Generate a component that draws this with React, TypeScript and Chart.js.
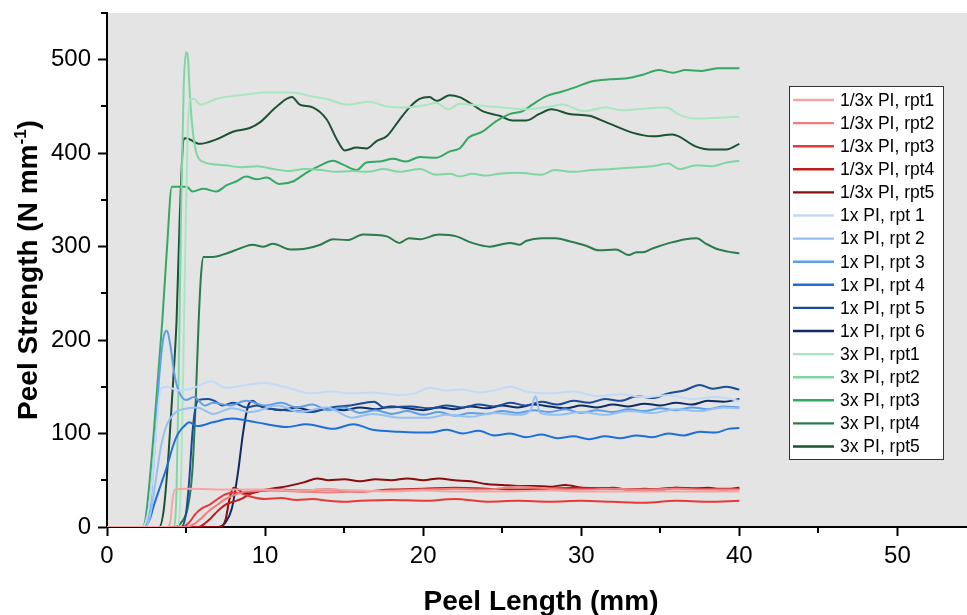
import React, { useEffect, useRef } from 'react';
import { Chart, registerables } from 'chart.js';

Chart.register(...registerables);

const FONT = "Arial, 'Liberation Sans', Helvetica, sans-serif";

const X_MIN = 0;
const X_MAX = 54.4;
const Y_MIN = 0;
const Y_MAX = 550;
const xMajorTicks = [0, 10, 20, 30, 40, 50];
const xMinorTicks = [5, 15, 25, 35, 45];
const yMajorTicks = [0, 100, 200, 300, 400, 500];
const yMinorTicks = [50, 150, 250, 350, 450, 550];

const xTitle = 'Peel Length (mm)';
const yTitleMain = 'Peel Strength (N mm';
const yTitleSup = '-1';
const yTitleEnd = ')';

const seriesLabels = [
  '1/3x PI, rpt1', '1/3x PI, rpt2', '1/3x PI, rpt3', '1/3x PI, rpt4', '1/3x PI, rpt5',
  '1x PI, rpt 1', '1x PI, rpt 2', '1x PI, rpt 3', '1x PI, rpt 4', '1x PI, rpt 5', '1x PI, rpt 6',
  '3x PI, rpt1', '3x PI, rpt2', '3x PI, rpt3', '3x PI, rpt4', '3x PI, rpt5',
];

const seriesColors = [
  '#f6a5a5', '#f17c7c', '#e8393a', '#c01a1a', '#8a0d0d',
  '#c3daf6', '#94c0f2', '#5f9fe9', '#1f6fd9', '#1a4c9a', '#0e2b66',
  '#a8e6c0', '#7fd6a2', '#34a862', '#2a7b4e', '#1a5234',
];

// 1/3x PI
const pi13_rpt1: [number, number][] = [[0,0],[3.8,0],[4.0,5],[4.15,30],[4.3,40],[5,41],[8,40],[10,40],[12,39],[14,40],[16,39],[18,38],[20,39],[22,38],[25,38],[28,39],[30,38],[33,38],[36,38],[40,38]];
const pi13_rpt2: [number, number][] = [[0,0],[5.0,0],[5.5,3],[6,10],[6.5,18],[7,24],[7.5,30],[8,34],[8.5,37],[9,38],[10,39],[12,38],[14,37],[16,38],[18,39],[20,40],[22,41],[24,40],[26,43],[28,41],[30,40],[32,41],[34,40],[36,41],[38,40],[40,40]];
const pi13_rpt3: [number, number][] = [[0,0],[4.8,0],[5.2,5],[5.6,14],[6,20],[6.5,24],[7,30],[7.5,35],[8,37],[8.5,36],[9,33],[10,30],[11,31],[12,29],[13,30],[14,28],[15,27],[16,28],[18,29],[20,28],[22,30],[24,27],[26,28],[28,27],[30,28],[32,27],[34,26],[36,28],[38,27],[40,28]];
const pi13_rpt4: [number, number][] = [[0,0],[5.8,0],[6.2,4],[6.6,10],[7,17],[7.5,24],[8,27],[8.5,30],[9,35],[9.5,38],[10,39],[11,40],[12,39],[14,40],[16,38],[18,40],[20,41],[22,42],[24,41],[26,40],[28,41],[30,42],[32,41],[34,40],[36,42],[38,41],[40,41]];
const pi13_rpt5: [number, number][] = [[0,0],[7.2,0],[7.5,8],[7.75,30],[8.0,42],[8.3,40],[8.7,36],[9.3,37],[10,40],[10.8,42],[11.5,44],[12.5,48],[13.3,52],[14,50],[15,51],[16,49],[17,51],[18,50],[19,52],[20,50],[21,52],[22,50],[23,49],[24,46],[25,45],[26,44],[27,44],[28,43],[29,45],[30,42],[31,41],[32,42],[33,40],[34,41],[35,40],[36,42],[37,41],[38,42],[39,40],[40,42]];

// 1x PI
const pi1_rpt1: [number, number][] = [[0,0],[2.2,0],[2.5,8],[2.8,40],[3.1,100],[3.4,148],[3.8,150],[4.5,146],[5.5,149],[6.6,156],[7.5,149],[8.8,152],[10,154],[11.2,150],[12.9,143],[14.2,145],[15.4,143],[16.7,144],[18.5,141],[19.5,143],[20.4,149],[21.5,146],[22.5,147],[23.5,144],[24.5,146],[25.5,150],[26.5,145],[28,143],[29.5,145],[31,140],[32.5,142],[34,139],[35.5,141],[37,137],[38.5,139],[40,135]];
const pi1_rpt2: [number, number][] = [[0,0],[2.4,0],[2.7,10],[3.0,40],[3.4,85],[3.8,110],[4.3,122],[4.6,125],[5.7,128],[6.7,121],[7.9,127],[9.1,123],[10.8,130],[12.2,123],[13.9,128],[15.5,117],[16.8,121],[18.5,117],[20.4,117],[21.5,120],[23,118],[24.5,122],[26,120],[26.8,125],[27.1,140],[27.4,122],[28.5,120],[30,123],[31.5,120],[33,124],[34.5,122],[36,126],[37.5,124],[39,128],[40,127]];
const pi1_rpt3: [number, number][] = [[0,0],[2.3,0],[2.7,20],[3.0,80],[3.3,160],[3.6,205],[3.8,210],[4.0,195],[4.3,160],[4.6,143],[5.0,136],[5.5,139],[6.2,130],[6.7,133],[7.8,130],[8.8,135],[10,130],[11,133],[12,128],[13,131],[14,125],[15,128],[16,122],[17,125],[18,121],[19,124],[20,120],[21,123],[22,119],[23,122],[24,121],[25,124],[26,122],[27,125],[28,123],[29,126],[30,122],[31,125],[32,123],[33,126],[34,124],[35,127],[36,125],[37,128],[38,126],[39,129],[40,128]];
const pi1_rpt4: [number, number][] = [[0,0],[2.3,0],[2.7,8],[3.0,25],[3.4,45],[3.8,65],[4.2,88],[4.5,100],[5.0,110],[5.2,112],[5.7,108],[6.7,112],[7.9,116],[8.8,114],[10.1,110],[11.4,107],[12.6,110],[14.3,105],[15.6,110],[16.8,104],[18.5,102],[20.4,101],[21.5,104],[22.5,100],[23.5,103],[24.5,98],[25.5,100],[26.5,96],[27.5,99],[28.5,95],[29.5,97],[30.5,94],[31.5,97],[32.5,95],[33.5,98],[34.5,96],[35.5,100],[36.5,98],[37.5,102],[38.5,101],[39.3,105],[40,106]];
const pi1_rpt5: [number, number][] = [[0,0],[4.7,0],[5.0,15],[5.2,50],[5.4,100],[5.6,128],[5.8,136],[6.4,137],[6.8,135],[7.3,130],[8.0,133],[8.8,128],[9.5,130],[10.1,127],[11.3,125],[12.9,123],[14.2,128],[15.4,130],[16.9,134],[17.5,128],[19.2,129],[20.4,127],[21.5,130],[22.5,128],[23.5,131],[24.5,129],[25.5,133],[26.5,130],[27.5,134],[28.5,131],[29.5,135],[30.5,133],[31.5,137],[32.5,135],[33.5,140],[34.5,138],[35.5,143],[36.5,146],[37.5,152],[38.3,148],[39.2,150],[40,147]];
const pi1_rpt6: [number, number][] = [[0,0],[7.0,0],[7.5,5],[7.9,20],[8.3,60],[8.6,100],[8.9,128],[9.2,135],[9.6,130],[10.2,127],[11,125],[12,128],[13,124],[14,127],[15,125],[16,128],[17,126],[18,129],[19,127],[20,125],[21,128],[22,126],[23,129],[24,127],[25,130],[26,128],[27,131],[28,129],[29,127],[30,130],[31,128],[32,131],[33,129],[34,132],[35,130],[36,133],[37,131],[38,135],[39,134],[40,137]];

// 3x PI
const pi3_rpt1: [number, number][] = [[0,0],[4.5,0],[4.7,60],[4.9,250],[5.1,420],[5.25,458],[5.5,458],[5.9,452],[6.9,458],[7.9,461],[8.9,463],[10.0,465],[11.7,465],[12.9,461],[13.9,458],[15.2,452],[16.6,455],[17.7,450],[18.9,449],[20.3,452],[20.8,454],[21.6,447],[22.3,453],[23.5,451],[25,449],[26.5,447],[28,450],[28.8,452],[30.2,445],[31.5,449],[32.5,446],[33.5,447],[35.4,449],[36.2,441],[37.3,437],[38.7,438],[40,439]];
const pi3_rpt2: [number, number][] = [[0,0],[4.2,0],[4.4,40],[4.55,180],[4.7,350],[4.85,470],[5.0,508],[5.1,505],[5.25,460],[5.45,420],[5.7,398],[6.2,390],[6.9,388],[7.5,387],[8.5,385],[9.5,386],[10.5,383],[11.5,381],[12.5,383],[13.5,382],[14.5,380],[15.5,381],[16.5,380],[17.5,383],[18.5,380],[19.8,383],[20.8,377],[21.7,378],[22.3,375],[23.1,378],[24,376],[24.8,378],[26,379],[27.5,377],[28.3,382],[29.5,380],[30.7,382],[32,383],[33.5,385],[34.5,386],[35.5,389],[36.2,383],[37.3,387],[38.2,386],[39.2,390],[40,392]];
const pi3_rpt3: [number, number][] = [[0,0],[2.2,0],[2.4,5],[2.7,50],[3.0,110],[3.5,221],[3.8,300],[4.1,364],[5.05,364],[5.4,359],[6.1,362],[6.9,359],[7.6,366],[8.2,370],[8.8,375],[9.5,372],[10.1,374],[10.9,367],[11.8,370],[12.6,379],[13.5,387],[14.3,392],[14.9,388],[15.8,382],[16.4,390],[17.2,391],[18.1,394],[18.9,391],[19.8,396],[20.8,395],[21.7,402],[22.3,405],[22.9,417],[23.75,423],[24.6,434],[25.5,442],[26.3,445],[26.9,452],[27.8,461],[28.8,466],[29.7,471],[30.7,477],[31.8,479],[32.8,480],[33.9,484],[34.9,489],[35.8,486],[36.6,489],[37.6,488],[38.7,491],[40,491]];
const pi3_rpt4: [number, number][] = [[0,0],[4.3,0],[4.7,5],[5.1,20],[5.4,60],[5.6,130],[5.8,221],[5.95,270],[6.1,289],[6.7,289],[7.6,293],[8.4,298],[9.2,302],[9.9,300],[10.5,303],[11.6,297],[12.6,298],[13.5,302],[14.3,308],[15.2,307],[16.2,313],[17.7,311],[18.5,304],[19.1,309],[19.8,308],[21.0,313],[22.1,311],[23.1,304],[24.2,300],[25.5,304],[26.1,302],[26.5,306],[27.5,309],[28.4,309],[29.2,306],[30.3,301],[31.1,296],[32.2,297],[33.0,291],[33.5,294],[33.9,294],[34.5,298],[35.6,304],[36.6,308],[37.3,309],[37.9,303],[38.5,298],[39.5,294],[40,293]];
const pi3_rpt5: [number, number][] = [[0,0],[3.3,0],[3.6,20],[3.9,80],[4.2,160],[4.4,221],[4.6,330],[4.85,415],[5.0,416],[5.87,410],[6.95,415],[7.96,423],[9.03,427],[9.67,433],[10.74,450],[11.69,460],[12.19,452],[13.01,449],[13.9,436],[14.53,415],[15.04,403],[15.79,406],[16.42,405],[17.05,413],[17.69,418],[18.51,436],[19.14,449],[19.77,458],[20.4,460],[20.85,456],[21.67,462],[22.3,460],[23.12,452],[23.75,445],[24.83,440],[25.65,435],[26.53,435],[27.35,442],[28.11,447],[29.25,442],[30.51,440],[31.59,433],[33.23,422],[34.49,418],[35.76,420],[37.27,407],[38.09,404],[39.17,404],[40,410]];

const seriesData = [
  pi13_rpt1, pi13_rpt2, pi13_rpt3, pi13_rpt4, pi13_rpt5,
  pi1_rpt1, pi1_rpt2, pi1_rpt3, pi1_rpt4, pi1_rpt5, pi1_rpt6,
  pi3_rpt1, pi3_rpt2, pi3_rpt3, pi3_rpt4, pi3_rpt5,
];

const decorPlugin = {
  id: 'decor',
  beforeDraw(chart: any) {
    const { ctx, chartArea } = chart;
    ctx.save();
    ctx.fillStyle = '#ffffff';
    ctx.fillRect(0, 0, chart.width, chart.height);
    ctx.fillStyle = '#e4e4e4';
    ctx.fillRect(chartArea.left, chartArea.top, chartArea.right - chartArea.left, chartArea.bottom - chartArea.top);
    ctx.restore();
  },
  afterDraw(chart: any) {
    const { ctx, chartArea } = chart;
    const xs = chart.scales.x;
    const ys = chart.scales.y;
    ctx.save();
    // minor ticks
    ctx.strokeStyle = '#000';
    ctx.lineWidth = 2;
    ctx.beginPath();
    xMinorTicks.forEach((v) => {
      const px = Math.round(xs.getPixelForValue(v));
      ctx.moveTo(px, chartArea.bottom);
      ctx.lineTo(px, chartArea.bottom + 6);
    });
    yMinorTicks.forEach((v) => {
      const py = Math.round(ys.getPixelForValue(v));
      ctx.moveTo(chartArea.left - 6, py);
      ctx.lineTo(chartArea.left, py);
    });
    ctx.stroke();

    // x title
    ctx.fillStyle = '#000';
    ctx.font = `bold 28px ${FONT}`;
    ctx.textAlign = 'center';
    ctx.textBaseline = 'alphabetic';
    ctx.fillText(xTitle, (chartArea.left + chartArea.right) / 2 + 4, 610);

    // y title with superscript
    const mainFont = `bold 28px ${FONT}`;
    const supFont = `bold 17px ${FONT}`;
    ctx.font = mainFont;
    const w1 = ctx.measureText(yTitleMain).width;
    const w3 = ctx.measureText(yTitleEnd).width;
    ctx.font = supFont;
    const w2 = ctx.measureText(yTitleSup).width;
    const total = w1 + w2 + w3;
    ctx.translate(37, (chartArea.top + chartArea.bottom) / 2);
    ctx.rotate(-Math.PI / 2);
    ctx.textAlign = 'left';
    let cx = -total / 2;
    ctx.font = mainFont;
    ctx.fillText(yTitleMain, cx, 0);
    cx += w1;
    ctx.font = supFont;
    ctx.fillText(yTitleSup, cx, -11);
    cx += w2;
    ctx.font = mainFont;
    ctx.fillText(yTitleEnd, cx, 0);
    ctx.restore();

    // legend
    ctx.save();
    const bx = 789.5, by = 86.5, bw = 154, bh = 373;
    ctx.fillStyle = '#ffffff';
    ctx.fillRect(bx, by, bw, bh);
    ctx.strokeStyle = '#333';
    ctx.lineWidth = 1;
    ctx.strokeRect(bx, by, bw, bh);
    ctx.font = `17.5px ${FONT}`;
    ctx.textAlign = 'left';
    ctx.textBaseline = 'middle';
    chart.data.datasets.forEach((ds: any, i: number) => {
      const cy = 100 + i * 23.1;
      ctx.strokeStyle = ds.borderColor;
      ctx.lineWidth = 2.4;
      ctx.beginPath();
      ctx.moveTo(793, cy);
      ctx.lineTo(834, cy);
      ctx.stroke();
      ctx.fillStyle = '#000';
      ctx.fillText(ds.label, 840, cy + 1);
    });
    ctx.restore();
  },
};

export default function App() {
  const canvasRef = useRef<HTMLCanvasElement | null>(null);

  useEffect(() => {
    const canvas = canvasRef.current;
    if (!canvas) return;
    const datasets = seriesData.map((pts, i) => ({
      label: seriesLabels[i],
      data: pts.map(([x, y]) => ({ x, y })),
      borderColor: seriesColors[i],
      backgroundColor: seriesColors[i],
      borderWidth: 2,
      pointRadius: 0,
      fill: false,
      cubicInterpolationMode: 'monotone' as const,
    }));
    const tickFont = { family: FONT, size: 24 };
    const chart = new Chart(canvas, {
      type: 'line',
      data: { datasets },
      options: {
        responsive: false,
        devicePixelRatio: 1,
        animation: false,
        layout: { padding: { top: 13, right: 0, left: 0, bottom: 0 } },
        plugins: {
          legend: { display: false },
          tooltip: { enabled: false },
          title: { display: false },
        },
        scales: {
          x: {
            type: 'linear',
            min: X_MIN,
            max: X_MAX,
            afterBuildTicks: (s: any) => { s.ticks = xMajorTicks.map((v) => ({ value: v })); },
            afterFit: (s: any) => { s.height = 88; s.paddingLeft = 0; s.paddingRight = 0; },
            ticks: { font: tickFont, color: '#000', padding: 6, maxRotation: 0, autoSkip: false },
            grid: { display: true, drawOnChartArea: false, drawTicks: true, tickLength: 9, tickColor: '#000', tickWidth: 2 },
            border: { display: true, color: '#000', width: 2 },
          },
          y: {
            type: 'linear',
            min: Y_MIN,
            max: Y_MAX,
            afterBuildTicks: (s: any) => { s.ticks = yMajorTicks.map((v) => ({ value: v })); },
            afterFit: (s: any) => { s.width = 107; s.paddingTop = 0; s.paddingBottom = 0; },
            ticks: { font: tickFont, color: '#000', padding: 7, autoSkip: false },
            grid: { display: true, drawOnChartArea: false, drawTicks: true, tickLength: 9, tickColor: '#000', tickWidth: 2 },
            border: { display: true, color: '#000', width: 2 },
          },
        },
      },
      plugins: [decorPlugin],
    });
    return () => chart.destroy();
  }, []);

  return (
    <div style={{ position: 'absolute', left: 0, top: 0, width: 967, height: 615 }}>
      <canvas ref={canvasRef} width={967} height={615} style={{ display: 'block', width: 967, height: 615 }} />
    </div>
  );
}
